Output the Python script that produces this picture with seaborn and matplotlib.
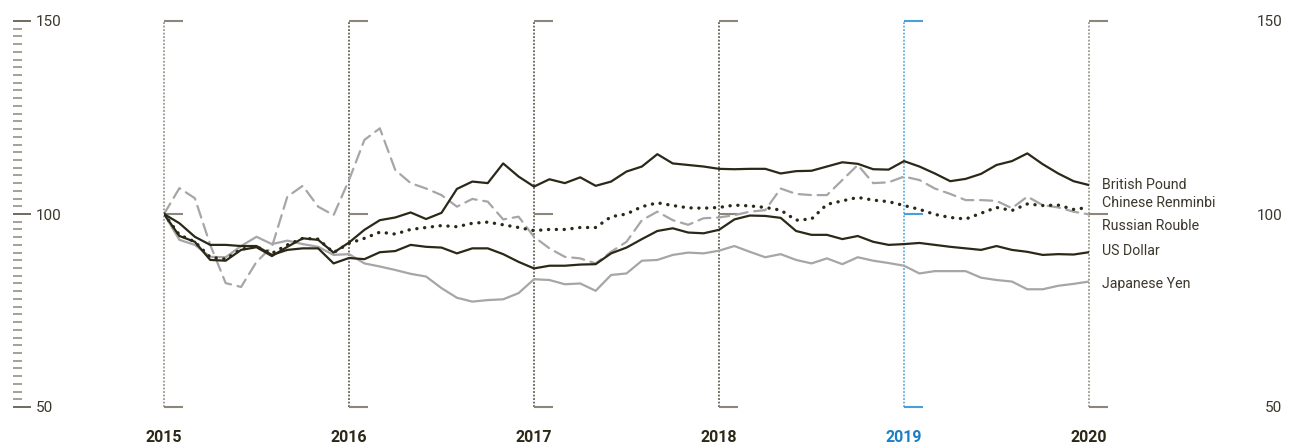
import matplotlib

matplotlib.use("Agg")
import matplotlib.pyplot as plt
import numpy as np
import pandas as pd
import seaborn as sns
from matplotlib.ticker import MultipleLocator

# monthly index values, Jan 2015 = 100
years = [2015, 2016, 2017, 2018, 2019, 2020]
months = 2015 + np.arange(61) / 12

british_pound = [
    100, 94.3, 92.8, 88.1, 87.9, 90.7, 91.4, 89.1, 91.5, 93.7, 93.3, 90.0, 92.6,
    95.9, 98.4, 99.1, 100.4, 98.7, 100.3, 106.5, 108.4, 108.0, 113.1, 109.7, 107.1,
    109.0, 108.0, 109.5, 107.3, 108.4, 111.0, 112.3, 115.5, 113.1, 112.7, 112.3, 111.7,
    111.6, 111.7, 111.7, 110.5, 111.1, 111.2, 112.3, 113.4, 113.0, 111.6, 111.5, 113.7,
    112.3, 110.5, 108.5, 109.1, 110.4, 112.7, 113.7, 115.7, 112.9, 110.5, 108.5, 107.5,
]
chinese_renminbi = [
    100, 94.6, 92.8, 88.8, 88.3, 90.9, 91.5, 89.8, 92.0, 93.7, 93.5, 90.0, 92.4,
    93.7, 95.3, 94.8, 96.0, 96.5, 97.0, 96.7, 97.6, 97.9, 97.2, 96.5, 95.7,
    96.0, 96.0, 96.5, 96.5, 99.3, 100.0, 101.9, 102.9, 102.2, 101.6, 101.5, 101.7,
    102.3, 102.1, 101.7, 101.0, 98.4, 98.7, 102.5, 103.4, 104.3, 103.6, 103.2, 102.2,
    101.2, 99.9, 99.1, 98.7, 100.2, 101.7, 100.9, 102.6, 102.2, 102.3, 101.2, 101.7,
]
russian_rouble = [
    100, 106.7, 104.1, 92.0, 82.1, 81.1, 87.6, 91.5, 104.5, 107.3, 101.9, 99.7, 108.8,
    119.2, 122.2, 111.4, 108.0, 106.6, 104.9, 101.9, 103.9, 103.2, 98.6, 99.3, 94.1,
    91.1, 88.9, 88.5, 87.2, 90.2, 92.8, 98.4, 100.6, 98.4, 97.2, 98.9, 99.1,
    99.7, 100.6, 101.0, 106.6, 105.2, 104.9, 104.9, 108.8, 112.7, 108.0, 108.2, 109.7,
    108.8, 106.6, 105.2, 103.6, 103.6, 103.4, 101.5, 104.5, 102.3, 101.7, 100.6, 99.9,
]
us_dollar = [
    100, 97.6, 94.1, 92.0, 92.0, 91.7, 91.7, 89.4, 90.7, 91.1, 91.1, 87.2, 88.6,
    88.3, 90.1, 90.4, 92.0, 91.5, 91.3, 89.8, 91.1, 91.1, 89.6, 87.6, 85.9,
    86.6, 86.6, 86.9, 87.0, 89.8, 91.3, 93.5, 95.6, 96.3, 95.2, 95.0, 95.9,
    98.6, 99.6, 99.5, 99.0, 95.6, 94.6, 94.6, 93.5, 94.3, 92.8, 92.0, 92.2,
    92.5, 92.0, 91.5, 91.1, 90.7, 91.7, 90.7, 90.2, 89.4, 89.6, 89.5, 90.1,
]
japanese_yen = [
    100, 93.3, 92.0, 88.9, 88.8, 91.7, 94.1, 92.2, 93.1, 92.2, 91.5, 89.4, 89.6,
    87.2, 86.4, 85.5, 84.5, 83.8, 80.8, 78.3, 77.3, 77.7, 77.9, 79.5, 83.1,
    82.9, 81.8, 82.0, 80.1, 84.2, 84.6, 87.9, 88.1, 89.4, 90.0, 89.8, 90.5,
    91.7, 90.2, 88.8, 89.6, 88.1, 87.2, 88.5, 87.0, 88.8, 87.9, 87.3, 86.6,
    84.6, 85.2, 85.2, 85.2, 83.5, 82.9, 82.5, 80.5, 80.5, 81.4, 81.9, 82.5,
]

DARK = "#2b2818"
TEXT = "#3b372c"
GREY_LINE = "#a6a6a6"
GREY_TICK = "#8c877a"
BLUE = "#4a9fd8"
BLUE_TEXT = "#1a7fc4"

sns.set_style("white")
plt.rcParams["font.family"] = ["Roboto", "DejaVu Sans"]

df = pd.DataFrame(
    {
        "month": months,
        "British Pound": british_pound,
        "Chinese Renminbi": chinese_renminbi,
        "Russian Rouble": russian_rouble,
        "US Dollar": us_dollar,
        "Japanese Yen": japanese_yen,
    }
)

fig = plt.figure(figsize=(12.98, 4.46), dpi=100)
ax = fig.add_axes([164 / 1298, 39 / 446, 925 / 1298, 386 / 446])

# year brackets
cap = 0.105
for yr in years:
    if yr == 2019:
        vcol, ccol = BLUE, BLUE
    elif yr in (2015, 2020):
        vcol, ccol = GREY_TICK, GREY_TICK
    else:
        vcol, ccol = "#4a4638", GREY_TICK
    ax.plot([yr, yr], [50, 150], color=vcol, lw=1.1, ls=(0, (1.2, 1.1)), clip_on=False, zorder=1)
    for level in (50, 100, 150):
        ax.plot([yr, yr + cap], [level, level], color=ccol, lw=1.5, clip_on=False, zorder=1,
                solid_capstyle="butt")
    ax.text(yr, 42.2, str(yr), ha="center", va="center", fontsize=11.5, fontweight="bold",
            color=BLUE_TEXT if yr == 2019 else DARK)

styles = [
    ("Japanese Yen", GREY_LINE, "-", 1.6),
    ("Russian Rouble", GREY_LINE, (0, (5.5, 3)), 1.6),
    ("US Dollar", DARK, "-", 1.6),
    ("British Pound", DARK, "-", 1.6),
    ("Chinese Renminbi", DARK, (0, (0.05, 2.3)), 2.4),
]
for name, color, ls, lw in styles:
    sns.lineplot(data=df, x="month", y=name, ax=ax, color=color, linestyle=ls, lw=lw,
                 dash_capstyle="round", zorder=3)
ax.set_xlim(2015, 2020)
ax.set_ylim(50, 150)
ax.axis("off")

label_y = {
    "British Pound": 107.5,
    "Chinese Renminbi": 102.8,
    "Russian Rouble": 96.9,
    "US Dollar": 90.4,
    "Japanese Yen": 81.9,
}
for name, y in label_y.items():
    ax.text(2020.07, y, name, ha="left", va="center", fontsize=10.2, color=TEXT)

# left scale
axl = fig.add_axes([0, 39 / 446, 12.7 / 1298, 386 / 446])
axl.set_ylim(50, 150)
axl.yaxis.tick_right()
axl.set_yticks([50, 100, 150])
axl.yaxis.set_minor_locator(MultipleLocator(2))
axl.tick_params(axis="y", which="major", direction="out", length=13, width=1.4,
                color="#6f6a5e", pad=3.5, labelsize=11, labelcolor=TEXT)
axl.tick_params(axis="y", which="minor", direction="out", length=6.5, width=1.1, color=GREY_TICK)
axl.xaxis.set_visible(False)
for s in axl.spines.values():
    s.set_visible(False)
axl.patch.set_visible(False)

# right scale
axr = fig.add_axes([1297.5 / 1298, 39 / 446, 0.0003, 386 / 446])
axr.set_ylim(50, 150)
axr.set_yticks([50, 100, 150])
axr.tick_params(axis="y", which="major", direction="out", length=8, width=1.2,
                color="#5d584b", pad=3, labelsize=11, labelcolor=TEXT)
axr.xaxis.set_visible(False)
for s in axr.spines.values():
    s.set_visible(False)
axr.patch.set_visible(False)

fig.savefig("out.png", dpi=100)
